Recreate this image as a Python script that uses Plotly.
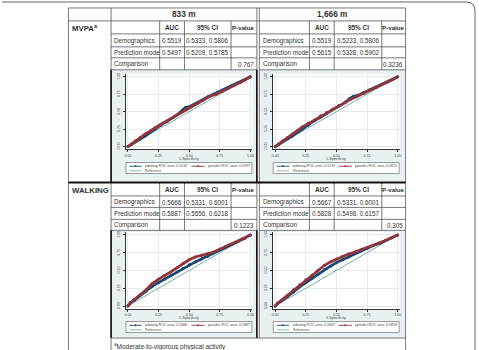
import plotly.graph_objects as go

W, H = 479, 350
def X(px): return px / W
def Y(py): return 1 - py / H

# ---------------- data ----------------
col_groups = ["833 m", "1,666 m"]
row_groups = ["MVPA<sup>a</sup>", "WALKING"]
sub_headers = ["AUC", "95% CI", "P-value"]
row_labels = ["Demographics", "Prediction mode", "Comparison"]
footnote = "<sup>a</sup>Moderate-to-vigorous physical activity"

mvpa_833_auc = ["0.5519", "0.5497"]
mvpa_833_ci = ["0.5333, 0.5806", "0.5209, 0.5785"]
mvpa_833_p = "0.767"
mvpa_1666_auc = ["0.5519", "0.5615"]
mvpa_1666_ci = ["0.5233, 0.5806", "0.5328, 0.5902"]
mvpa_1666_p = "0.3236"
walk_833_auc = ["0.5666", "0.5887"]
walk_833_ci = ["0.5331, 0.6001", "0.5556, 0.6218"]
walk_833_p = "0.1223"
walk_1666_auc = ["0.5667", "0.5828"]
walk_1666_ci = ["0.5331, 0.6001", "0.5498, 0.6157"]
walk_1666_p = "0.305"

axis_ticks = [0, 0.25, 0.5, 0.75, 1]
axis_ticktext = ["0.00", "0.25", "0.50", "0.75", "1.00"]
x_title = "1-Specificity"
reference_line = [0, 1]
legend_names = ["pdemog ROC area: ", "ppredict ROC area: ", "Reference"]

# ROC curves (1-specificity, sensitivity)
mvpa_833_demog_fpr = [0, 0.03, 0.06, 0.1, 0.14, 0.18, 0.22, 0.27, 0.32, 0.37, 0.42, 0.45, 0.47, 0.5, 0.55, 0.6, 0.65, 0.7, 0.75, 0.8, 0.85, 0.9, 0.95, 1]
mvpa_833_demog_tpr = [0, 0.03, 0.07, 0.11, 0.15, 0.2, 0.25, 0.31, 0.36, 0.42, 0.48, 0.53, 0.56, 0.57, 0.61, 0.66, 0.71, 0.75, 0.79, 0.83, 0.87, 0.91, 0.95, 1]
mvpa_833_pred_fpr = [0, 0.03, 0.06, 0.1, 0.14, 0.18, 0.22, 0.27, 0.32, 0.37, 0.42, 0.47, 0.52, 0.57, 0.62, 0.67, 0.72, 0.77, 0.82, 0.87, 0.92, 0.96, 1]
mvpa_833_pred_tpr = [0, 0.04, 0.08, 0.13, 0.18, 0.22, 0.27, 0.32, 0.37, 0.42, 0.48, 0.53, 0.57, 0.62, 0.67, 0.72, 0.75, 0.79, 0.84, 0.88, 0.92, 0.96, 1]

mvpa_1666_demog_fpr = [0, 0.03, 0.06, 0.1, 0.14, 0.18, 0.22, 0.27, 0.32, 0.37, 0.42, 0.47, 0.52, 0.57, 0.61, 0.64, 0.67, 0.72, 0.77, 0.82, 0.87, 0.92, 0.96, 1]
mvpa_1666_demog_tpr = [0, 0.03, 0.07, 0.11, 0.15, 0.2, 0.25, 0.31, 0.37, 0.42, 0.48, 0.53, 0.58, 0.63, 0.69, 0.72, 0.73, 0.77, 0.81, 0.85, 0.89, 0.93, 0.96, 1]
mvpa_1666_pred_fpr = [0, 0.03, 0.06, 0.1, 0.14, 0.18, 0.22, 0.27, 0.32, 0.37, 0.42, 0.47, 0.52, 0.57, 0.62, 0.67, 0.72, 0.77, 0.82, 0.87, 0.92, 0.96, 1]
mvpa_1666_pred_tpr = [0, 0.04, 0.08, 0.13, 0.18, 0.23, 0.28, 0.33, 0.38, 0.44, 0.49, 0.54, 0.59, 0.64, 0.68, 0.72, 0.76, 0.81, 0.85, 0.89, 0.93, 0.96, 1]

walk_833_demog_fpr = [0, 0.02, 0.05, 0.1, 0.15, 0.2, 0.25, 0.3, 0.35, 0.4, 0.45, 0.5, 0.55, 0.6, 0.65, 0.7, 0.75, 0.8, 0.85, 0.9, 0.95, 1]
walk_833_demog_tpr = [0, 0.05, 0.08, 0.15, 0.21, 0.28, 0.33, 0.38, 0.43, 0.48, 0.53, 0.58, 0.62, 0.66, 0.7, 0.75, 0.79, 0.83, 0.87, 0.91, 0.95, 1]
walk_833_pred_fpr = [0, 0.02, 0.05, 0.1, 0.15, 0.2, 0.25, 0.3, 0.35, 0.4, 0.45, 0.5, 0.55, 0.6, 0.65, 0.7, 0.75, 0.8, 0.85, 0.9, 0.95, 1]
walk_833_pred_tpr = [0, 0.04, 0.09, 0.16, 0.23, 0.32, 0.38, 0.43, 0.48, 0.54, 0.6, 0.65, 0.69, 0.71, 0.73, 0.76, 0.8, 0.84, 0.87, 0.91, 0.95, 1]

walk_1666_demog_fpr = [0, 0.02, 0.05, 0.1, 0.15, 0.2, 0.25, 0.3, 0.35, 0.4, 0.45, 0.5, 0.55, 0.6, 0.65, 0.7, 0.75, 0.8, 0.85, 0.9, 0.95, 1]
walk_1666_demog_tpr = [0, 0.04, 0.07, 0.13, 0.2, 0.27, 0.33, 0.39, 0.45, 0.51, 0.56, 0.61, 0.65, 0.69, 0.74, 0.78, 0.81, 0.85, 0.88, 0.92, 0.96, 1]
walk_1666_pred_fpr = [0, 0.02, 0.05, 0.1, 0.15, 0.2, 0.25, 0.3, 0.35, 0.4, 0.45, 0.5, 0.55, 0.6, 0.65, 0.7, 0.75, 0.8, 0.85, 0.9, 0.95, 1]
walk_1666_pred_tpr = [0, 0.04, 0.08, 0.15, 0.23, 0.3, 0.37, 0.43, 0.5, 0.57, 0.62, 0.66, 0.7, 0.73, 0.76, 0.79, 0.82, 0.85, 0.88, 0.92, 0.96, 1]

# ---------------- styling / layout ----------------
FONT = "Liberation Sans, Arial, sans-serif"
TXT = "#333333"
LINE = "#555555"
NAVY = "#1a476f"
MAROON = "#90353b"
REFC = "#5a9a96"
BG = "#e9f0f2"
BODY = 6.3

sections_x = [(110, 159, 184, 231, 257), (259.5, 310, 335, 383, 407)]
blocks = [
    dict(label_y=27, sub=(20, 33), rows=[33, 46, 57, 69], plot=(69, 182), axy=(73.2, 148.8),
         legend=(162, 173), xtitle_y=158,
         tables=[(mvpa_833_auc, mvpa_833_ci, mvpa_833_p), (mvpa_1666_auc, mvpa_1666_ci, mvpa_1666_p)],
         curves=[(mvpa_833_demog_fpr, mvpa_833_demog_tpr, mvpa_833_pred_fpr, mvpa_833_pred_tpr),
                 (mvpa_1666_demog_fpr, mvpa_1666_demog_tpr, mvpa_1666_pred_fpr, mvpa_1666_pred_tpr)]),
    dict(label_y=190, sub=(182, 195.5), rows=[195.5, 207, 219, 230], plot=(230, 338), axy=(231.7, 308.8),
         legend=(321.5, 332.5), xtitle_y=318,
         tables=[(walk_833_auc, walk_833_ci, walk_833_p), (walk_1666_auc, walk_1666_ci, walk_1666_p)],
         curves=[(walk_833_demog_fpr, walk_833_demog_tpr, walk_833_pred_fpr, walk_833_pred_tpr),
                 (walk_1666_demog_fpr, walk_1666_demog_tpr, walk_1666_pred_fpr, walk_1666_pred_tpr)]),
]
plot_x = [(125, 252.5), (273.5, 401)]

fig = go.Figure()
shapes, annotations = [], []

def hline(y, x0, x1, w=0.8, c=LINE):
    shapes.append(dict(type="line", xref="paper", yref="paper", x0=X(x0), x1=X(x1), y0=Y(y), y1=Y(y),
                       line=dict(color=c, width=w)))

def vline(x, y0, y1, w=0.8, c=LINE):
    shapes.append(dict(type="line", xref="paper", yref="paper", x0=X(x), x1=X(x), y0=Y(y0), y1=Y(y1),
                       line=dict(color=c, width=w)))

def rect(x0, y0, x1, y1, fill, lc=None, lw=0, layer="below"):
    shapes.append(dict(type="rect", xref="paper", yref="paper", x0=X(x0), x1=X(x1), y0=Y(y1), y1=Y(y0),
                       fillcolor=fill, line=dict(color=lc or fill, width=lw), layer=layer))

def text(s, x, y, size=BODY, anchor="left", bold=False, color=TXT):
    annotations.append(dict(text=f"<b>{s}</b>" if bold else s, x=X(x), y=Y(y), xref="paper", yref="paper",
                            xanchor=anchor, yanchor="middle", showarrow=False,
                            font=dict(family=FONT, size=size, color=color)))

# plot backgrounds
for b in blocks:
    for sx, (px0, px1) in zip(sections_x, plot_x):
        rect(sx[0], b["plot"][0], sx[4], b["plot"][1], BG)
        rect(px0, b["axy"][0], px1, b["axy"][1], "#ffffff")

# header
text(col_groups[0], (110 + 257) / 2, 13.5, size=8.3, anchor="center", bold=True)
text(col_groups[1], (259.5 + 407) / 2, 13.5, size=8.3, anchor="center", bold=True)
hline(7, 67, 407)
hline(20, 67, 407)
vline(67, 7, 350)
vline(110, 7, 350)
vline(257, 7, 338)
vline(259.5, 7, 338)
vline(407, 7, 350)

for bi, b in enumerate(blocks):
    text(row_groups[bi], 68.5, b["label_y"], size=7.8, bold=True)
    sy0, sy1 = b["sub"]
    for si, sx in enumerate(sections_x):
        c0, c1, c2, c3, c4 = sx
        cy = (sy0 + sy1) / 2 + 0.3
        text(sub_headers[0], (c1 + c2) / 2, cy, size=6.4, anchor="center", bold=True)
        text(sub_headers[1], (c2 + c3) / 2, cy, size=6.4, anchor="center", bold=True)
        text(sub_headers[2], (c3 + c4) / 2, cy, size=6.2, anchor="center", bold=True)
        auc, ci, p = b["tables"][si]
        rows = b["rows"]
        ys = [sy0] + rows
        for ri in range(3):
            ry = (ys[ri + 1] + ys[ri + 2]) / 2 + 0.5
            text(row_labels[ri], c0 + 1.2, ry)
            if ri < 2:
                text(auc[ri], (c1 + c2) / 2, ry, anchor="center")
                text(ci[ri], (c2 + c3) / 2, ry, anchor="center")
            else:
                text(p, c4 - 1, ry, anchor="right")
        for yy in rows:
            hline(yy, c0, c4)
        for cx in (c1, c2, c3):
            vline(cx, sy0, rows[-1])

# thick separators
hline(182, 67, 407, w=1.8, c="#111111")
for b in blocks:
    vline(110, b["plot"][0], b["plot"][1], w=1.6, c="#111111")
    vline(257, b["plot"][0], b["plot"][1], w=1.6, c="#111111")
hline(338, 110, 407)

# footnote
text(footnote, 110.5, 346, size=6.5)

# outer rounded frame (top + right)
shapes.append(dict(type="path", xref="paper", yref="paper",
                   path=f"M {X(0)},{Y(1)} L {X(468)},{Y(1)} Q {X(477)},{Y(1)} {X(477)},{Y(10)} L {X(477)},{Y(350)}",
                   line=dict(color="#666666", width=1)))

# ROC plots
axis_n = 0
for bi, b in enumerate(blocks):
    for si in range(2):
        axis_n += 1
        n = axis_n
        xa = "x" if n == 1 else f"x{n}"
        ya = "y" if n == 1 else f"y{n}"
        dfpr, dtpr, pfpr, ptpr = b["curves"][si]
        auc = b["tables"][si][0]
        fig.add_trace(go.Scatter(x=reference_line, y=reference_line, mode="lines", xaxis=xa, yaxis=ya,
                                 line=dict(color=REFC, width=0.8), showlegend=False, name=legend_names[2]))
        fig.add_trace(go.Scatter(x=dfpr, y=dtpr, mode="lines+markers", xaxis=xa, yaxis=ya,
                                 line=dict(color=NAVY, width=2.7), marker=dict(color=NAVY, size=3),
                                 showlegend=False, name=legend_names[0] + auc[0]))
        fig.add_trace(go.Scatter(x=pfpr, y=ptpr, mode="lines+markers", xaxis=xa, yaxis=ya,
                                 line=dict(color=MAROON, width=2.7), marker=dict(color=MAROON, size=3),
                                 showlegend=False, name=legend_names[1] + auc[1]))
        px0, px1 = plot_x[si]
        ay0, ay1 = b["axy"]
        common = dict(range=[-0.016, 1.016], showline=True, linecolor="#333333", linewidth=0.7,
                      ticks="outside", ticklen=2, tickwidth=0.6, tickcolor="#333333",
                      tickvals=axis_ticks, ticktext=axis_ticktext, zeroline=False,
                      showgrid=True, gridcolor="#e3ebee", gridwidth=0.6,
                      tickfont=dict(family=FONT, size=3.6, color="#444444"), fixedrange=True)
        xkey = "xaxis" if n == 1 else f"xaxis{n}"
        ykey = "yaxis" if n == 1 else f"yaxis{n}"
        fig.layout[xkey] = dict(common, domain=[X(px0), X(px1)], anchor=ya, ticklabelstandoff=0)
        yc = dict(common)
        yc["range"] = [-0.04, 1.04]
        fig.layout[ykey] = dict(yc, domain=[Y(ay1), Y(ay0)], anchor=xa, tickangle=-90, ticklabelstandoff=2)
        text(x_title, (px0 + px1) / 2, b["xtitle_y"], size=3.7, anchor="center", color="#444444")
        # legend box
        ly0, ly1 = b["legend"]
        lx0, lx1 = px0, px1 - 0.5
        rect(lx0, ly0, lx1, ly1, "#ffffff", lc="#555555", lw=0.6, layer="above")
        r1 = ly0 + 3.7
        r2 = ly0 + 8.3
        hline(r1, lx0 + 3.5, lx0 + 16, w=0.9, c=NAVY)
        shapes.append(dict(type="circle", xref="paper", yref="paper", x0=X(lx0 + 8.8), x1=X(lx0 + 10.6),
                           y0=Y(r1 + 0.9), y1=Y(r1 - 0.9), fillcolor=NAVY, line=dict(color=NAVY, width=0)))
        text(legend_names[0] + auc[0], lx0 + 17.5, r1, size=3.5, color="#444444")
        hline(r1, lx0 + 66, lx0 + 79.5, w=0.9, c=MAROON)
        shapes.append(dict(type="circle", xref="paper", yref="paper", x0=X(lx0 + 71.8), x1=X(lx0 + 73.6),
                           y0=Y(r1 + 0.9), y1=Y(r1 - 0.9), fillcolor=MAROON, line=dict(color=MAROON, width=0)))
        text(legend_names[1] + auc[1], lx0 + 80.5, r1, size=3.5, color="#444444")
        hline(r2, lx0 + 3.5, lx0 + 16, w=0.7, c=REFC)
        text(legend_names[2], lx0 + 17.5, r2, size=3.5, color="#444444")

fig.update_layout(width=W, height=H, autosize=False, margin=dict(l=0, r=0, t=0, b=0),
                  paper_bgcolor="#ffffff", plot_bgcolor="rgba(0,0,0,0)", showlegend=False,
                  shapes=shapes, annotations=annotations, font=dict(family=FONT, color=TXT))

fig.write_html("out.html", config={"displayModeBar": False})
